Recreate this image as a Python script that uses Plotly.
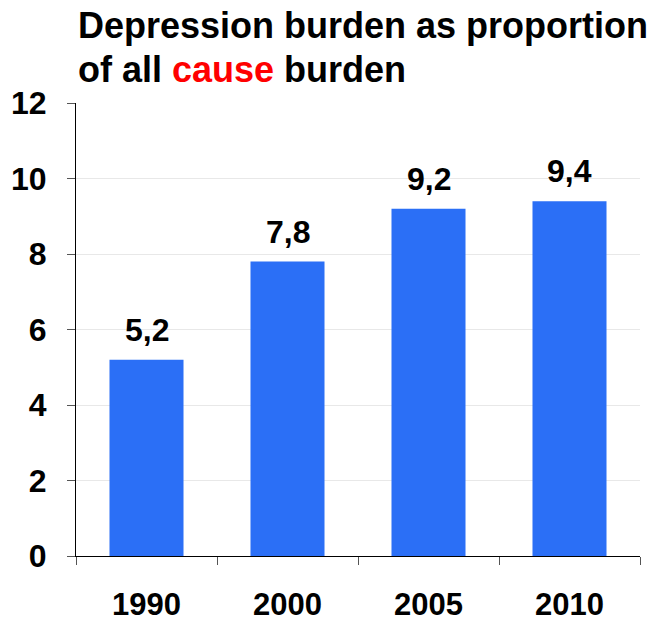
import plotly.graph_objects as go

years = ["1990", "2000", "2005", "2010"]
values = [5.2, 7.8, 9.2, 9.4]
labels = ["5,2", "7,8", "9,2", "9,4"]
y_ticks = [0, 2, 4, 6, 8, 10, 12]

FONT = "Liberation Sans, Arial, sans-serif"
BLUE = "#2B6FF6"

fig = go.Figure()
fig.add_trace(go.Bar(x=years, y=values, marker=dict(color=BLUE, line=dict(width=0)),
                     hoverinfo="skip"))

for i, (v, lab) in enumerate(zip(values, labels)):
    fig.add_annotation(x=i, y=v, text="<b>%s</b>" % lab, showarrow=False,
                       yanchor="bottom", yshift=10,
                       font=dict(family=FONT, size=32, color="black"))

fig.add_annotation(xref="paper", yref="paper", x=0, y=1, xanchor="left", yanchor="middle",
                   xshift=0, yshift=78,
                   text="<b>Depression burden as proportion</b>", showarrow=False,
                   font=dict(family=FONT, size=36, color="black"))
fig.add_annotation(xref="paper", yref="paper", x=0, y=1, xanchor="left", yanchor="middle",
                   xshift=0, yshift=34,
                   text="<b>of all <span style='color:#FF0000'>cause</span> burden</b>", showarrow=False,
                   font=dict(family=FONT, size=36, color="black"))

fig.update_layout(
    width=662, height=612,
    margin=dict(l=68, r=30, t=95, b=64, autoexpand=False),
    paper_bgcolor="white", plot_bgcolor="white",
    showlegend=False, bargap=0.475,
    font=dict(family=FONT, color="black"),
)
fig.update_xaxes(
    type="category", range=[-0.5, 3.5], automargin=False,
    showline=True, linecolor="black", linewidth=1,
    ticks="outside", tickson="boundaries", ticklen=8, tickcolor="#555555",
    tickfont=dict(family=FONT, size=31, color="black"),
    tickprefix="<b>", ticksuffix="</b>",
    ticklabelstandoff=21,
    showgrid=False,
)
fig.update_yaxes(
    range=[0, 12], tickvals=y_ticks, ticktext=["<b>%d</b>" % t for t in y_ticks],
    automargin=False,
    showline=True, linecolor="black", linewidth=1,
    ticks="outside", ticklen=8, tickcolor="#555555",
    tickfont=dict(family=FONT, size=32, color="black"),
    ticklabelstandoff=14,
    showgrid=True, gridcolor="#E8E8E8", gridwidth=1,
    zeroline=False,
)
fig.write_html("out.html")
